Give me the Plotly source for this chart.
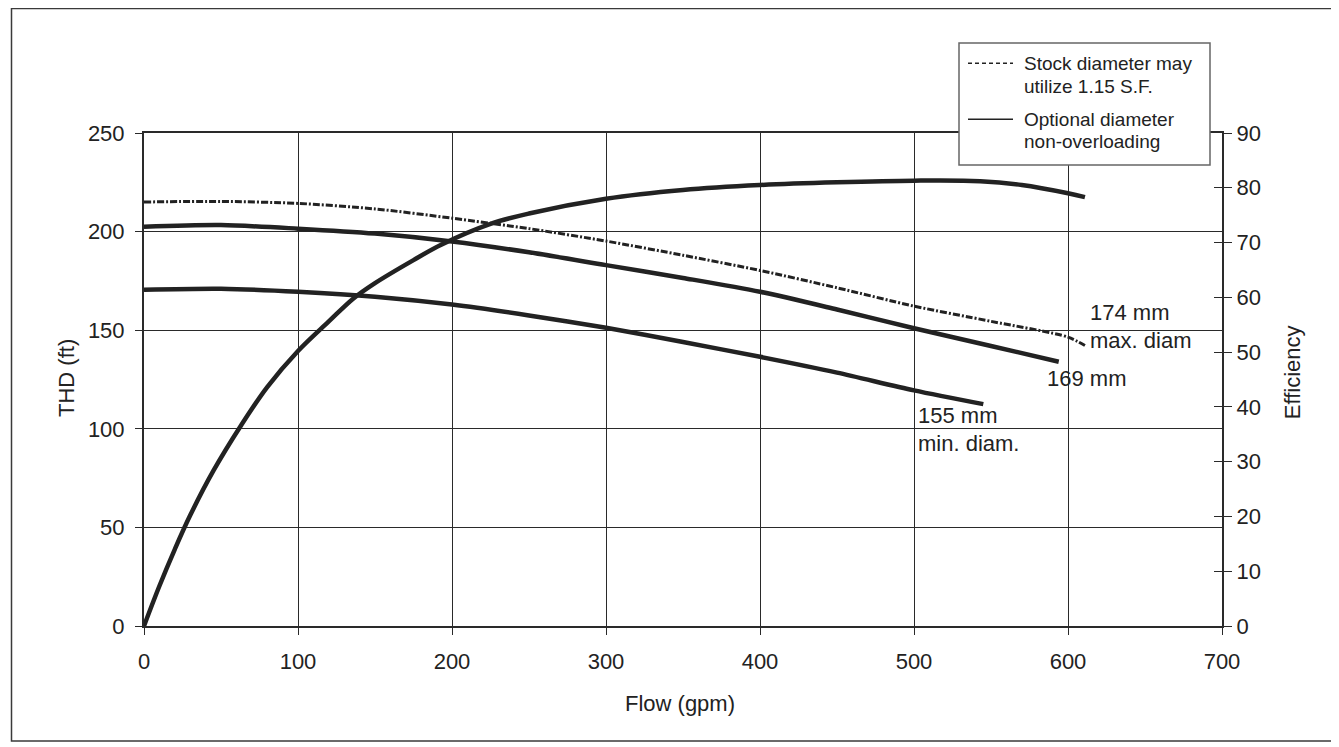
import plotly.graph_objects as go

# ---- data ----
flow_174 = [0, 50, 100, 150, 200, 250, 300, 350, 400, 450, 500, 550, 600, 611]
head_174 = [215, 215.3, 214.3, 211.5, 206.8, 201.5, 195.2, 188, 180.3, 171.5, 162.2, 154.5, 146.5, 142.2]

flow_169 = [0, 50, 100, 150, 200, 250, 300, 350, 400, 450, 500, 550, 594]
head_169 = [202.5, 203.3, 201.5, 199, 195, 189.5, 183, 176.5, 169.5, 160.5, 151, 142, 134]

flow_155 = [0, 50, 100, 150, 200, 250, 300, 350, 400, 450, 500, 545]
head_155 = [170.5, 171, 169.5, 167, 163, 157.5, 151.2, 144, 136.5, 128.5, 119.5, 112.5]

flow_eff = [0, 10, 20, 30, 45, 63, 80, 100, 120, 136, 150, 175, 193, 225, 250, 300, 350, 400, 450, 500, 543, 570, 600, 611]
eff = [0, 7.3, 14, 20.2, 28.3, 36.6, 43.6, 50.2, 55.6, 59.8, 62.6, 66.8, 69.6, 73.4, 75.3, 78, 79.6, 80.5, 81, 81.3, 81.2, 80.5, 79, 78.3]

x_ticks = [0, 100, 200, 300, 400, 500, 600, 700]
y_ticks = [0, 50, 100, 150, 200, 250]
eff_ticks = [0, 10, 20, 30, 40, 50, 60, 70, 80, 90]

curve_labels = [
    ("174 mm", 613, 159),
    ("max. diam", 613, 145),
    ("169 mm", 585, 125.5),
    ("155 mm", 501, 106.5),
    ("min. diam.", 501, 92.5),
]
legend_items = [
    ("Stock diameter may", "utilize 1.15 S.F.", "dash"),
    ("Optional diameter", "non-overloading", "solid"),
]

INK = "#222222"
GRID = "#2a2a2a"
FONT = "Liberation Sans, Arial, sans-serif"

fig = go.Figure()
fig.add_trace(go.Scatter(x=flow_174, y=head_174, mode="lines",
                         line=dict(color=INK, width=3, dash="7px,2px,2px,2px", shape="spline", smoothing=0.8),
                         showlegend=False, hoverinfo="skip"))
fig.add_trace(go.Scatter(x=flow_169, y=head_169, mode="lines",
                         line=dict(color=INK, width=4.5, shape="spline", smoothing=0.8),
                         showlegend=False))
fig.add_trace(go.Scatter(x=flow_155, y=head_155, mode="lines",
                         line=dict(color=INK, width=4.5, shape="spline", smoothing=0.8),
                         showlegend=False))
fig.add_trace(go.Scatter(x=flow_eff, y=eff, mode="lines", yaxis="y2",
                         line=dict(color=INK, width=4.5, shape="spline", smoothing=1.0),
                         showlegend=False))

axis_font = dict(family=FONT, size=22, color=INK)

# page body has an 8px margin, so the figure is sized/offset to compensate
fig.update_layout(
    width=1331, height=739,
    margin=dict(l=136, r=117, t=125, b=121),
    paper_bgcolor="white", plot_bgcolor="white",
    font=axis_font,
    showlegend=False,
    xaxis=dict(range=[0, 700], tickvals=x_ticks, showgrid=True, gridcolor=GRID, gridwidth=1.4,
               showline=True, linecolor=GRID, linewidth=2, mirror=True,
               ticks="outside", ticklen=7, tickcolor=GRID, tickwidth=1.4,
               zeroline=False, tickfont=axis_font, ticklabelstandoff=8),
    yaxis=dict(range=[0, 250], tickvals=y_ticks, showgrid=True, gridcolor=GRID, gridwidth=1.4,
               showline=True, linecolor=GRID, linewidth=2,
               ticks="outside", ticklen=7, tickcolor=GRID, tickwidth=1.4,
               zeroline=False, tickfont=axis_font, ticklabelstandoff=6),
    yaxis2=dict(range=[0, 90], tickvals=eff_ticks, overlaying="y", side="right",
                showgrid=False, showline=True, linecolor=GRID, linewidth=2,
                ticks="outside", ticklen=8, tickcolor=GRID, tickwidth=1.4,
                zeroline=False, tickfont=axis_font, ticklabelstandoff=0),
    yaxis3=dict(range=[0, 90], tickvals=eff_ticks, overlaying="y", side="right", anchor="x",
                showgrid=False, showline=False, showticklabels=False,
                ticks="inside", ticklen=8, tickcolor=GRID, tickwidth=1.4, zeroline=False),
)
# dummy trace to activate yaxis3
fig.add_trace(go.Scatter(x=[None], y=[None], yaxis="y3", showlegend=False, hoverinfo="skip"))

# axis titles
fig.add_annotation(text="Flow (gpm)", xref="paper", yref="paper", x=0.497, y=-0.158,
                   showarrow=False, font=axis_font, xanchor="center", yanchor="middle")
fig.add_annotation(text="THD (ft)", xref="paper", yref="paper", x=-0.0724, y=0.503,
                   showarrow=False, font=axis_font, textangle=-90, xanchor="center", yanchor="middle")
fig.add_annotation(text="Efficiency", xref="paper", yref="paper", x=1.065, y=0.515,
                   showarrow=False, font=axis_font, textangle=-90, xanchor="center", yanchor="middle")

# curve labels
for txt, fx, hy in curve_labels:
    fig.add_annotation(text=txt, x=fx, y=hy, xref="x", yref="y", showarrow=False,
                       xanchor="left", yanchor="middle", font=axis_font)

# paper-coordinate helpers (screen px -> paper)
def px(x):
    return (x - 144) / 1078

def py(y):
    return (626 - y) / 493

# outer frame
fig.add_shape(type="rect", xref="paper", yref="paper", x0=px(11.5), x1=px(1333), y0=py(741), y1=py(8.5),
              line=dict(color="#3a3a3a", width=1.5), fillcolor="rgba(0,0,0,0)", layer="below")

# legend box
fig.add_shape(type="rect", xref="paper", yref="paper", x0=px(959), x1=px(1210), y0=py(165), y1=py(43),
              line=dict(color="#666666", width=1.5), fillcolor="white", layer="above")
rows = [(63.3, 86.0), (119.3, 141.7)]
for (l1, l2, dash), (ya, yb) in zip(legend_items, rows):
    fig.add_shape(type="line", xref="paper", yref="paper", x0=px(968), x1=px(1013), y0=py(ya), y1=py(ya),
                  line=dict(color=INK, width=1.4, dash="4px,3px" if dash == "dash" else "solid"), layer="above")
    for txt, yy in ((l1, ya), (l2, yb)):
        fig.add_annotation(text=txt, xref="paper", yref="paper", x=px(1022), y=py(yy),
                           showarrow=False, xanchor="left", yanchor="middle",
                           font=dict(family=FONT, size=19, color=INK))

fig.write_html("out.html")
